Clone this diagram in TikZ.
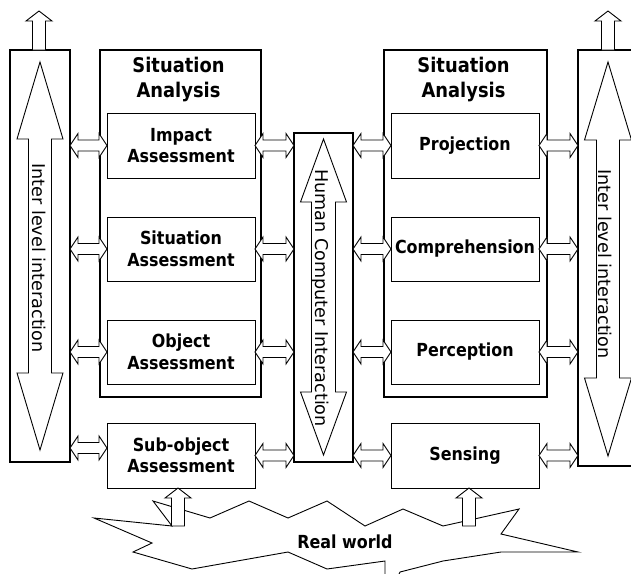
\documentclass[tikz,border=0pt]{standalone}
\usepackage{fontspec}
\setmainfont{DejaVu Sans}
\newfontfamily\boldf[FakeStretch=0.885]{DejaVu Sans}
\usetikzlibrary{calc}
\newcommand\hdbl[2]{\draw[blk] let \p1=#1, \p2=#2 in
  (\x1,\y1) -- (\x1+8pt,\y1+12pt) -- (\x1+8pt,\y1+5.5pt) -- (\x2-8pt,\y1+5.5pt) -- (\x2-8pt,\y1+12pt) -- (\x2,\y1)
  -- (\x2-8pt,\y1-12pt) -- (\x2-8pt,\y1-5.5pt) -- (\x1+8pt,\y1-5.5pt) -- (\x1+8pt,\y1-12pt) -- cycle;}
\newcommand\blkup[2]{\draw[blk] let \p1=#1, \p2=#2 in
  (\x1-6.5pt,\y1) -- (\x1-6.5pt,\y2-10pt) -- (\x1-13pt,\y2-10pt) -- (\x1,\y2) -- (\x1+13pt,\y2-10pt) -- (\x1+6.5pt,\y2-10pt) -- (\x1+6.5pt,\y1) -- cycle;}
\newcommand\vdbl[5]{\draw[blk] let \p1=#1, \p2=#2 in
  (\x1,\y1) -- (\x1+#3,\y1-#5) -- (\x1+#4,\y1-#5) -- (\x1+#4,\y2+#5) -- (\x1+#3,\y2+#5) -- (\x1,\y2)
  -- (\x1-#3,\y2+#5) -- (\x1-#4,\y2+#5) -- (\x1-#4,\y1-#5) -- (\x1-#3,\y1-#5) -- cycle;}
\begin{document}
\begin{tikzpicture}[x=1pt,y=-1pt,
  outer/.style={draw,line width=2.2pt,inner sep=0pt,outer sep=0pt},
  inbox/.style={draw,line width=1pt,fill=white,inner sep=0pt,outer sep=0pt,minimum width=148pt,
    font=\boldf\bfseries\fontsize{18}{21.5}\selectfont,align=center},
  blk/.style={draw,line width=0.9pt,fill=white,line join=miter},
  title/.style={font=\boldf\bfseries\fontsize{20.2}{25}\selectfont,align=center,inner sep=0pt},
  vlabel/.style={rotate=-90,anchor=base,font=\fontsize{17.6}{20}\selectfont,inner sep=0pt}]
\clip (0,0) rectangle (631,573);
% column boxes
\node[outer,minimum width=60pt,minimum height=412pt] (ilL) at (40,256) {};
\node[outer,minimum width=161pt,minimum height=347pt] (sa1) at (180.5,223.5) {};
\node[outer,minimum width=59pt,minimum height=329pt] (hci) at (323.5,297.5) {};
\node[outer,minimum width=163pt,minimum height=347pt] (sa2) at (465.5,223.5) {};
\node[outer,minimum width=67pt,minimum height=416pt] (ilR) at (611.5,258) {};
% titles
\node[title] (t1) at (178.5,79.5) {Situation\\Analysis};
\node[title] (t2) at (463.5,79.5) {Situation\\Analysis};
% inner boxes
\node[inbox,minimum height=65pt] (ia) at (181,145.5) {Impact\\Assessment};
\node[inbox,minimum height=64pt] (sit) at (181,249) {Situation\\Assessment};
\node[inbox,minimum height=64pt] (obj) at (181,352) {Object\\Assessment};
\node[inbox,minimum height=65pt] (sub) at (181,455.5) {Sub-object\\Assessment};
\node[inbox,minimum height=65pt] (proj) at (465,145.5) {Projection};
\node[inbox,minimum height=64pt] (comp) at (465,249) {Comprehension};
\node[inbox,minimum height=64pt] (perc) at (465,352) {Perception};
\node[inbox,minimum height=65pt] (sens) at (465,455.5) {Sensing};
% big double arrows in the columns
\vdbl{($(ilL.north)+(0,12)$)}{($(ilL.south)+(0,-12)$)}{23pt}{11.5pt}{77pt}
\vdbl{($(hci.north)+(0,6)$)}{($(hci.south)+(0,-7)$)}{23pt}{12pt}{63pt}
\vdbl{($(ilR.north)+(-3.5,12)$)}{($(ilR.south)+(-3.5,-10)$)}{23.5pt}{11.5pt}{78pt}
\node[vlabel] (l1) at (32,258) {Inter level interaction};
\node[vlabel] (l2) at (315,298) {Human Computer Interaction};
\node[vlabel] (l3) at (598,264) {Inter level interaction};
% horizontal double arrows
\hdbl{(ilL.east |- ia.west)}{(ia.west)}
\hdbl{(ilL.east |- sit.west)}{(sit.west)}
\hdbl{(ilL.east |- obj.west)}{(obj.west)}
\hdbl{($(ilL.east |- sub.west)+(0,-7.5)$)}{($(sub.west)+(0,-7.5)$)}
\hdbl{(ia.east)}{(hci.west |- ia.east)}
\hdbl{(sit.east)}{(hci.west |- sit.east)}
\hdbl{(obj.east)}{(hci.west |- obj.east)}
\hdbl{(sub.east)}{(hci.west |- sub.east)}
\hdbl{(hci.east |- proj.west)}{(proj.west)}
\hdbl{(hci.east |- comp.west)}{(comp.west)}
\hdbl{(hci.east |- perc.west)}{(perc.west)}
\hdbl{(hci.east |- sens.west)}{(sens.west)}
\hdbl{(proj.east)}{(ilR.west |- proj.east)}
\hdbl{(comp.east)}{(ilR.west |- comp.east)}
\hdbl{(perc.east)}{(ilR.west |- perc.east)}
\hdbl{(sens.east)}{(ilR.west |- sens.east)}
% top arrows
\coordinate (upL) at (39,11);
\coordinate (upR) at (608,11);
\blkup{(upL |- ilL.north)}{(upL)}
\blkup{(upR |- ilR.north)}{(upR)}
% real world cloud
\draw[line width=0.9pt,fill=white,line join=miter] (94,518) -- (172,526) -- (153,501) -- (210,518) -- (249,501)
  -- (288,518) -- (327,501) -- (365,526) -- (403,509) -- (443,526) -- (519,509) -- (501,534) -- (578,552)
  -- (501,552) -- (443,561) -- (400,572) -- (392,590) -- (385,590) -- (385,561) -- (327,569) -- (288,552)
  -- (192,569) -- (133,552) -- (152,543) -- cycle;
\node[font=\boldf\bfseries\fontsize{18}{21.5}\selectfont] (rw) at (345,542) {Real world};
\coordinate (ca) at (178,526);
\coordinate (cb) at (469,526);
\blkup{(ca)}{(ca |- sub.south)}
\blkup{(cb)}{(cb |- sens.south)}
\end{tikzpicture}
\end{document}
